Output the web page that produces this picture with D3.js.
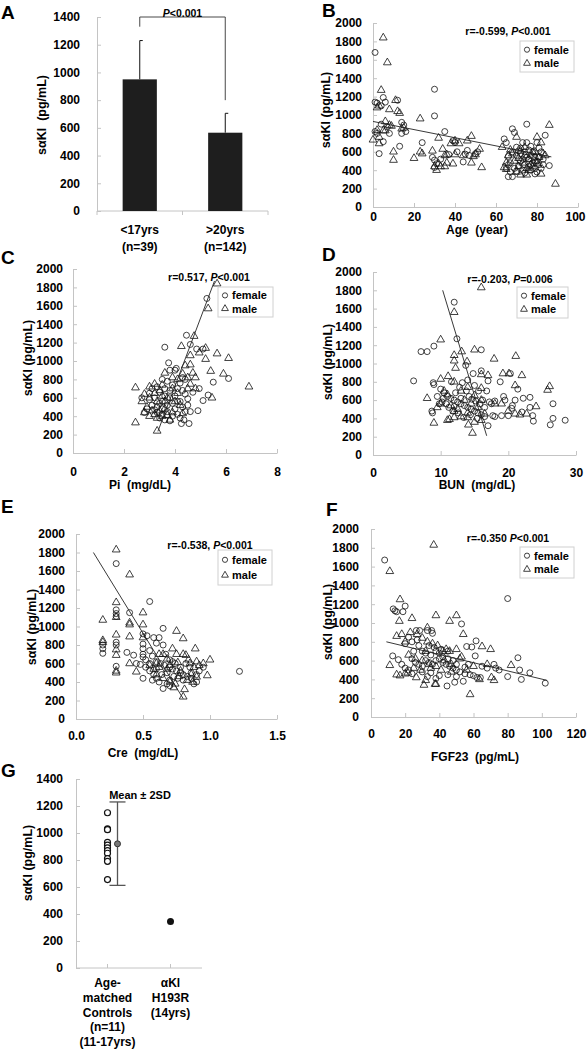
<!DOCTYPE html>
<html><head><meta charset="utf-8">
<script src="https://cdn.jsdelivr.net/npm/d3@7"></script>
<style>
body{margin:0;background:#fff}
text{font-family:"Liberation Sans",Arial,sans-serif;font-weight:bold;fill:#000}
</style>
</head><body><svg id="c" width="587" height="1049"></svg>
<script>
// ---------- DATA ----------
// Panel A
const groupsA = ["<17yrs", "(n=39)", ">20yrs", "(n=142)"];
const catsA = ["lt17", "gt20"];
const meansA = [950, 565];
const upperA = [1230, 705];
const ticksA = [0, 200, 400, 600, 800, 1000, 1200, 1400];
const pTextA = "<0.001";

// Panel B: age vs sαKl
const ageF = [[1,1680],[1,1140],[2,1130],[4,1100],[5,1190],[6,1140],[1,820],[3,580],[5,710],[4,900],[8,800],[12,1160],[13,660],[14,920],[14,800],[15,890],[16,820],[7,870],[2,800],
[24,700],[30,1280],[30,990],[29,540],[30,510],[31,470],[30,430],[35,820],[37,570],[39,720],[41,600],[44,490],[45,575],[46,615],[50,580],[51,600],[33,520],[40,700],[47,560],
[64,740],[65,700],[66,550],[66,330],[68,330],[68,850],[69,810],[70,650],[71,610],[72,580],[73,520],[74,460],[75,900],[75,700],[76,620],[77,560],[78,480],[79,420],[80,380],[80,700],[81,640],[82,600],[83,520],[84,780],[86,450],[67,480],[69,420],[70,390],[71,450],[72,500],[73,400],[74,370],[76,440],[77,400],[78,600],[79,540],[80,500],[81,460],[82,420],[70,560],[72,640],[74,600],[76,520],[68,600],[66,460],[65,420],[67,380],[73,700],[75,540],[77,660],[79,360],[81,540],[83,460]];
const ageM = [[0,730],[2,835],[3,760],[3,690],[4,1270],[5,1840],[7,1570],[2,1080],[3,1100],[6,930],[6,830],[8,1060],[8,890],[10,600],[10,510],[11,1160],[12,1040],[13,1020],[14,850],[15,860],[5,830],[9,880],
[20,530],[23,960],[23,600],[24,580],[29,610],[30,440],[31,400],[32,750],[32,470],[34,630],[35,560],[35,440],[36,570],[36,480],[38,690],[40,720],[40,570],[39,470],[42,690],[46,720],[48,770],[48,480],[49,550],[50,570],[52,630],[53,430],[33,440],[44,560],
[63,650],[64,430],[65,410],[66,560],[68,580],[69,500],[70,760],[71,440],[72,350],[73,480],[74,560],[75,420],[76,520],[77,460],[78,590],[79,500],[80,760],[81,540],[82,360],[83,580],[86,890],[89,250],[67,620],[70,380],[72,610],[74,650],[76,400],[78,440],[80,480],[82,700],[84,560],[71,530],[75,350],[79,600],[65,480]];
const ageLine = [[0,930],[87,545]];
const ageTicks = [0,20,40,60,80,100];

// Panel C: Pi
const piF = [[5.25,1680],[4.45,1280],[3.6,1150],[4.6,1180],[4.85,1130],[5.1,1130],[3.75,980],[4.05,920],[4.0,900],[6.1,810],[5.5,770],[5.3,630],[5.1,570],[4.95,700],[4.6,450],[4.9,460],[4.55,320],[4.25,320],[4.35,360],[4.5,520],
[3.8,900],[3.5,800],[3.7,780],[3.9,740],[4.1,700],[4.2,760],[4.3,820],[4.4,800],[3.6,700],[3.3,720],[3.4,660],[3.2,600],[3.0,580],[3.1,520],[2.9,480],[2.8,440],[3.3,500],[3.5,560],[3.6,620],[3.8,600],[3.9,540],[4.0,480],[4.1,420],[4.2,380],[3.7,450],[3.5,420],[3.4,380],[3.9,400],[4.0,620],[4.2,560],[4.3,500],[4.4,640],[3.7,520],[3.2,470],[3.0,650],[3.1,700],[3.6,360],[3.8,350],[4.1,560],[4.3,680],[3.4,540],[3.5,480],[3.3,440],[4.4,450],[4.5,590],[4.7,660],[2.7,600],[3.8,680]];
const piM = [[5.65,1840],[5.3,1570],[4.75,1270],[4.25,1160],[4.6,1060],[4.95,1090],[5.2,1140],[5.2,1020],[5.65,1080],[6.1,1030],[5.4,890],[5.9,860],[6.9,720],[2.45,710],[2.45,330],[3.3,240],[3.6,870],[4.7,870],[4.4,950],[4.6,960],[5.45,600],[4.8,820],[4.6,750],[4.5,820],[4.3,860],[4.1,800],[3.2,750],[3.0,720],[2.8,640],[2.7,560],[2.8,440],[3.0,400],[3.2,420],[3.4,680],[3.5,740],[3.6,560],[3.7,600],[3.9,700],[3.3,560],[3.0,600],[2.9,500],[3.5,400],[3.8,360],[4.0,560],[4.2,520],[3.1,460],[3.4,460],[3.6,480],[3.9,440],[4.1,650],[4.8,700],[3.7,410],[3.3,380],[4.3,430],[4.5,700],[3.2,650],[3.9,820],[3.5,620]];
const piLine = [[3.33,235],[5.55,1870]];
const piTicks = [0,2,4,6,8];

// Panel D: BUN
const bunF = [[6,810],[7.1,1130],[8,1130],[9,1190],[12,1670],[12.4,1270],[13.7,980],[14.8,890],[16,1150],[16,920],[17,810],[18.8,800],[20.3,890],[21.4,720],[8.9,790],[9,770],[8.7,480],[8.8,460],[19.3,640],[20.6,540],[22.2,620],[23.2,630],[23.2,520],[23.6,430],[23.7,370],[26.2,330],[26.6,560],[26.6,400],[28.4,380],[20,430],[17,320],[17.7,430],[19.5,600],[18,590],[19,430],[21,600],[20.5,510],[22,470],
[10,720],[10.5,680],[11,640],[11.5,620],[12,600],[12.5,580],[13,560],[13.5,540],[14,520],[14.5,500],[15,480],[15.5,460],[16,440],[16.5,420],[10.2,580],[10.8,560],[11.2,520],[12.2,680],[12.8,740],[13.2,790],[13.8,700],[14.2,640],[14.6,610],[15.2,590],[15.8,560],[16.2,600],[16.8,700],[17.5,560],[11.8,480],[12.6,460],[13.4,410],[14.4,440],[15.4,400],[9.5,640],[9.8,560],[10.4,620],[11.6,800],[14,820],[15,760],[13,620],[12,530],[16.5,520],[17.2,580],[18,420],[15.6,700]];
const bunM = [[16,1830],[12,1560],[13.1,1130],[10,1260],[12,1090],[12,1030],[12.2,950],[13.9,1020],[15,1150],[17.9,1050],[21.1,1080],[20.1,890],[19.2,890],[22,870],[21,760],[26.1,750],[25.8,710],[17,870],[16,880],[10,830],[11.1,860],[8,620],[9,350],[14.7,240],[14.1,330],[24.1,530],[22.7,450],[21,450],[21.7,440],[11.3,390],[11,380],[12,410],[13,420],[14,410],[15,360],[16,380],[16.5,450],[10.5,700],[11,660],[12,800],[13,700],[14,740],[15,650],[16,600],[10,560],[11.5,540],[12.5,500],[13.5,600],[14.5,560],[15.5,520],[16,730],[9.5,520],[18,560],[19,560],[20,480],[14,460],[12,480]];
const bunLine = [[10.3,1800],[16.8,210]];
const bunTicks = [0,10,20,30];

// Panel E: Cre
const creF = [[0.3,1680],[0.2,800],[0.2,760],[0.2,710],[0.3,1180],[0.3,1140],[0.3,1110],[0.3,830],[0.3,800],[0.3,570],[0.4,1150],[0.38,720],[0.43,690],[0.45,600],[0.55,1270],[0.65,980],[0.5,920],[0.5,810],[0.5,760],[0.5,700],[0.5,670],[0.5,440],[1.22,515],[0.53,900],[0.58,880],[0.6,820],[0.62,880],[0.65,800],[0.55,740],[0.57,680],[0.6,620],[0.63,600],[0.66,580],[0.7,560],[0.72,540],[0.75,520],[0.78,500],[0.8,480],[0.83,460],[0.86,440],[0.9,400],[0.88,380],[0.52,560],[0.55,520],[0.58,480],[0.6,440],[0.62,400],[0.65,330],[0.68,380],[0.7,420],[0.73,460],[0.76,440],[0.8,420],[0.85,560],[0.9,480],[0.92,520],[0.7,640],[0.74,600],[0.78,560],[0.67,700],[0.55,600],[0.52,640],[0.48,590],[0.6,540],[0.64,480],[0.72,620],[0.82,600],[0.95,560],[0.57,420],[0.68,500],[0.7,360],[0.86,500]];
const creM = [[0.3,1830],[0.4,1560],[0.3,1260],[0.2,1070],[0.2,850],[0.2,830],[0.3,910],[0.3,690],[0.3,520],[0.3,500],[0.4,1040],[0.4,1020],[0.4,890],[0.4,600],[0.5,1150],[0.5,1020],[0.5,880],[0.45,510],[0.75,950],[0.8,870],[1.0,640],[0.98,470],[0.9,455],[0.8,240],[0.81,320],[0.73,340],[0.89,760],[0.3,1100],[0.3,750],[0.6,600],[0.62,560],[0.65,700],[0.68,650],[0.7,580],[0.72,760],[0.75,700],[0.78,520],[0.8,700],[0.82,690],[0.85,600],[0.88,560],[0.9,620],[0.92,580],[0.95,600],[0.6,480],[0.65,440],[0.7,400],[0.74,380],[0.77,460],[0.83,420],[0.86,480],[0.55,580],[0.58,540],[0.68,540],[0.76,610],[0.84,640],[0.62,700],[0.87,400]];
const creLine = [[0.13,1800],[0.8,220]];
const creTicks = [0,0.5,1.0,1.5];

// Panel F: FGF23
const fgfF = [[8,1670],[13,1150],[14,1130],[15,1120],[20,1180],[18.7,1120],[12.7,650],[16,610],[20,780],[22,850],[26.5,920],[28.5,920],[33,920],[35.5,920],[36,890],[53,990],[56,750],[59,745],[61.5,810],[61,650],[80,1260],[80,430],[86,630],[87,500],[88,400],[93,470],[102,360],[44.5,330],[49,370],[54,380],[58,450],[72,560],[73,520],[75,500],
[18,560],[20,520],[22,500],[24,620],[26,580],[28,560],[30,540],[32,600],[34,580],[36,560],[38,600],[40,620],[42,580],[44,560],[46,540],[48,520],[50,500],[52,480],[55,460],[60,440],[62,420],[25,700],[28,760],[30,700],[32,680],[35,660],[38,700],[40,680],[42,640],[45,620],[48,600],[50,560],[24,800],[27,820],[34,760],[37,740],[41,720],[45,700],[30,480],[35,470],[40,440],[45,450],[50,430],[55,530],[57,560],[65,540],[68,520],[24,460],[33,430],[38,410],[64,420]];
const fgfM = [[36.7,1830],[11,1550],[17,1250],[16.6,1020],[24,1050],[38,1080],[46,1020],[50,1080],[54,880],[33,950],[18,880],[15,860],[65,750],[70,720],[82,550],[70.5,420],[72,390],[63.5,400],[58,240],[26.5,420],[31,340],[32,390],[37.5,350],[38,350],[11,550],[15,450],[17,440],[20,460],[21.5,470],[20,800],[23,900],[27,880],[30,840],[33,800],[36,780],[39,760],[42,700],[46,700],[50,720],[22,660],[26,620],[30,600],[34,560],[38,540],[43,600],[47,560],[52,620],[56,500],[60,540],[25,520],[29,500],[35,520],[41,500],[53,640],[32,700],[44,720],[47,480],[68,560]];
const fgfLine = [[9,800],[103,390]];
const fgfTicks = [0,20,40,60,80,100,120];

const yTicks2000 = [0,200,400,600,800,1000,1200,1400,1600,1800,2000];

// Panel G
const catsG = ["ctrl", "mut"];
const ctrlValues = [1150,1030,1025,930,910,890,870,850,810,790,655];
const ctrlMean = 920, ctrlLow = 612, ctrlHigh = 1230;
const mutValue = 345;
const labelsG = [["Age-","matched","Controls","(n=11)","(11-17yrs)"],["αKl","H193R","(14yrs)"]];
const ticksG = [0,200,400,600,800,1000,1200,1400];

// ---------- DRAWING ----------
const svg = d3.select("#c");
const AXC = "#c4c4c4";
const FONT = 12;
const intFmt = d3.format("d");

function styleAxis(g){
  g.select(".domain").attr("stroke", AXC).attr("stroke-width", 1);
  g.selectAll(".tick line").attr("stroke", AXC);
  g.selectAll(".tick text").attr("font-size", FONT).attr("fill", "#000")
    .style("font-weight","bold");
}
function letter(t, x, y){
  svg.append("text").attr("x", x).attr("y", y).attr("font-size", 19).text(t);
}
function ylabel(x, y, txt){
  svg.append("text").attr("transform", `translate(${x},${y}) rotate(-90)`)
    .attr("text-anchor","middle").attr("dominant-baseline","central")
    .attr("font-size", 12.5).style("white-space","pre").text(txt);
}
function statText(x, y, pre, post){
  const t = svg.append("text").attr("x", x).attr("y", y).attr("font-size", 10.5)
    .attr("text-anchor","middle").attr("dominant-baseline","central");
  t.append("tspan").text(pre);
  t.append("tspan").style("font-style","italic").text("P");
  t.append("tspan").text(post);
}

function scatter(o){
  const x = d3.scaleLinear().domain(o.xd).range(o.xr);
  const y = d3.scaleLinear().domain([0,2000]).range(o.yr);
  const ya = svg.append("g").attr("transform", `translate(${o.xr[0]},0)`)
    .call(d3.axisLeft(y).tickValues(yTicks2000).tickFormat(intFmt).tickSizeInner(-4).tickSizeOuter(0).tickPadding(o.ygap));
  styleAxis(ya);
  const xa = svg.append("g").attr("transform", `translate(0,${o.yr[0]})`)
    .call(d3.axisBottom(x).tickValues(o.xt).tickSizeInner(-4).tickSizeOuter(0).tickPadding(o.xpad).tickFormat(o.fmt || intFmt));
  styleAxis(xa);
  if (o.lastShift) xa.selectAll(".tick text").filter((d,i,n) => i === n.length-1).attr("dx", o.lastShift);
  const g = svg.append("g");
  g.selectAll(".f").data(o.F).join("circle")
    .attr("cx", d => x(d[0])).attr("cy", d => y(d[1])).attr("r", 3)
    .attr("fill","none").attr("stroke","#111").attr("stroke-width",0.8);
  const tri = d3.symbol(d3.symbolTriangle, 26);
  g.selectAll(".m").data(o.M).join("path")
    .attr("transform", d => `translate(${x(d[0])},${y(d[1])})`).attr("d", tri)
    .attr("fill","none").attr("stroke","#111").attr("stroke-width",0.8);
  g.append("path").attr("d", d3.line().x(d=>x(d[0])).y(d=>y(d[1]))(o.line))
    .attr("stroke","#222").attr("stroke-width",0.9).attr("fill","none");
  // legend
  const L = o.leg;
  const lg = svg.append("g").attr("transform", `translate(${L[0]},${L[1]})`);
  lg.append("rect").attr("width", L[2]).attr("height", L[3]).attr("fill","#fff").attr("stroke","#d0d0d0");
  lg.append("circle").attr("cx", 7).attr("cy", L[3]*0.28).attr("r", 2.6).attr("fill","none").attr("stroke","#111").attr("stroke-width",0.8);
  lg.append("path").attr("transform", `translate(7,${L[3]*0.72})`).attr("d", d3.symbol(d3.symbolTriangle, 20))
    .attr("fill","none").attr("stroke","#111").attr("stroke-width",0.8);
  lg.append("text").attr("x", 14).attr("y", L[3]*0.28).attr("dominant-baseline","central").attr("font-size", 11).text("female");
  lg.append("text").attr("x", 14).attr("y", L[3]*0.72).attr("dominant-baseline","central").attr("font-size", 11).text("male");
  statText(o.st[0], o.st[1], o.st[2], o.st[3]);
  svg.append("text").attr("x", o.xl[0]).attr("y", o.xl[1]).attr("text-anchor","middle")
    .attr("dominant-baseline","central").attr("font-size", 12).style("white-space","pre").text(o.xl[2]);
  ylabel(o.yl[0], o.yl[1], "sαKl (pg/mL)");
  letter(o.let[0], o.let[1], o.let[2]);
}

// ---- Panel A ----
(function(){
  const y = d3.scaleLinear().domain([0,1400]).range([211,17]);
  const x = d3.scaleBand().domain(catsA).range([97,268]).paddingInner(0.6).paddingOuter(0.3);
  const ya = svg.append("g").attr("transform","translate(97,0)")
    .call(d3.axisLeft(y).tickValues(ticksA).tickFormat(intFmt).tickSizeInner(-4).tickSizeOuter(0).tickPadding(17));
  styleAxis(ya);
  svg.append("line").attr("x1",97).attr("x2",268).attr("y1",211).attr("y2",211).attr("stroke",AXC);
  [97,182.5,268].forEach(v => svg.append("line").attr("x1",v).attr("x2",v).attr("y1",211).attr("y2",215).attr("stroke",AXC));
  catsA.forEach((c,i) => {
    const cx = x(c) + x.bandwidth()/2;
    svg.append("line").attr("x1",cx).attr("x2",cx).attr("y1",y(meansA[i])).attr("y2",y(upperA[i])).attr("stroke","#111").attr("stroke-width",1);
    svg.append("line").attr("x1",cx).attr("x2",cx+3).attr("y1",y(upperA[i])).attr("y2",y(upperA[i])).attr("stroke","#111").attr("stroke-width",1);
    svg.append("rect").attr("x", x(c)).attr("width", x.bandwidth()).attr("y", y(meansA[i]))
      .attr("height", y(0)-y(meansA[i])).attr("fill","#1e1e1e");
    svg.append("text").attr("x",cx).attr("y",230).attr("text-anchor","middle").attr("dominant-baseline","central").attr("font-size",12).text(groupsA[i*2]);
    svg.append("text").attr("x",cx).attr("y",247).attr("text-anchor","middle").attr("dominant-baseline","central").attr("font-size",12).text(groupsA[i*2+1]);
  });
  const c1 = x(catsA[0]) + x.bandwidth()/2, c2 = x(catsA[1]) + x.bandwidth()/2;
  svg.append("path").attr("d", `M${c1},${y(1330)}V${y(1400)}H${c2}V${y(800)}`).attr("fill","none").attr("stroke","#333").attr("stroke-width",0.9);
  const t = svg.append("text").attr("x",(c1+c2)/2).attr("y",13).attr("text-anchor","middle").attr("dominant-baseline","central").attr("font-size",10.5);
  t.append("tspan").style("font-style","italic").text("P");
  t.append("tspan").text(pTextA);
  ylabel(42, 115, "sαKl  (pg/mL)");
  letter("A", 1, 19);
})();

scatter({xd:[0,100], xr:[373,578], yr:[207,23], xt:ageTicks, ygap:11, xpad:5, lastShift:-3, F:ageF, M:ageM, line:ageLine,
  leg:[520,41,54,31], st:[508,31,"r=-0.599, ",  "<0.001"], xl:[477,230,"Age  (year)"], yl:[326,110], let:["B",322,17]});
scatter({xd:[0,8], xr:[73,277], yr:[453,269], xt:piTicks, ygap:10, xpad:14, F:piF, M:piM, line:piLine,
  leg:[218,287,55,30], st:[209,277,"r=0.517, ","<0.001"], xl:[140,485,"Pi  (mg/dL)"], yl:[28,358], let:["C",1,264]});
scatter({xd:[0,30], xr:[373,576], yr:[455,272], xt:bunTicks, ygap:11, xpad:13, F:bunF, M:bunM, line:bunLine,
  leg:[517,287,51,31], st:[510,279,"r=-0.203, ","=0.006"], xl:[477,485,"BUN  (mg/dL)"], yl:[328,362], let:["D",322,261]});
scatter({xd:[0,1.5], xr:[76,277], yr:[719,534], xt:creTicks, ygap:11, xpad:12, fmt:d3.format(".1f"), F:creF, M:creM, line:creLine,
  leg:[218,550,54,35], st:[210,545,"r=-0.538, ","<0.001"], xl:[143,753,"Cre  (mg/dL)"], yl:[32,627], let:["E",1,513]});
scatter({xd:[0,120], xr:[371,576], yr:[717,529], xt:fgfTicks, ygap:12, xpad:12, F:fgfF, M:fgfM, line:fgfLine,
  leg:[520,547,54,31], st:[508,538,"r=-0.350 ","<0.001"], xl:[475,757,"FGF23  (pg/mL)"], yl:[328,622], let:["F",326,516]});

// ---- Panel G ----
(function(){
  const y = d3.scaleLinear().domain([0,1400]).range([968,779]);
  const x = d3.scalePoint().domain(catsG).range([76,202]).padding(0.5);
  const ya = svg.append("g").attr("transform","translate(76,0)")
    .call(d3.axisLeft(y).tickValues(ticksG).tickFormat(intFmt).tickSizeInner(-4).tickSizeOuter(0).tickPadding(13));
  styleAxis(ya);
  svg.append("line").attr("x1",76).attr("x2",202).attr("y1",968).attr("y2",968).attr("stroke",AXC);
  catsG.forEach(c => svg.append("line").attr("x1",x(c)).attr("x2",x(c)).attr("y1",968).attr("y2",964).attr("stroke",AXC));
  const cx = x("ctrl"), mx = cx + 10;
  svg.selectAll(".cv").data(ctrlValues).join("circle").attr("cx", cx).attr("cy", d => y(d)).attr("r", 3)
    .attr("fill","#fff").attr("stroke","#111").attr("stroke-width",1.2);
  svg.append("line").attr("x1",mx).attr("x2",mx).attr("y1",y(ctrlLow)).attr("y2",y(ctrlHigh)).attr("stroke","#555").attr("stroke-width",1.3);
  [ctrlLow, ctrlHigh].forEach(v => svg.append("line").attr("x1",mx-8).attr("x2",mx+8).attr("y1",y(v)).attr("y2",y(v)).attr("stroke","#555").attr("stroke-width",1.3));
  svg.append("circle").attr("cx",mx).attr("cy",y(ctrlMean)).attr("r",3).attr("fill","#777").attr("stroke","#333").attr("stroke-width",1);
  svg.append("circle").attr("cx",x("mut")).attr("cy",y(mutValue)).attr("r",3.5).attr("fill","#111");
  svg.append("text").attr("x",140).attr("y",795).attr("text-anchor","middle").attr("dominant-baseline","central").attr("font-size",11).text("Mean ± 2SD");
  labelsG.forEach((lines,i) => lines.forEach((s,j) =>
    svg.append("text").attr("x", x(catsG[i])).attr("y", 983 + j*14.8).attr("text-anchor","middle")
      .attr("dominant-baseline","central").attr("font-size",12).text(s)));
  ylabel(28, 863, "sαKl (pg/mL)");
  letter("G", 1, 777);
})();
</script></body></html>
